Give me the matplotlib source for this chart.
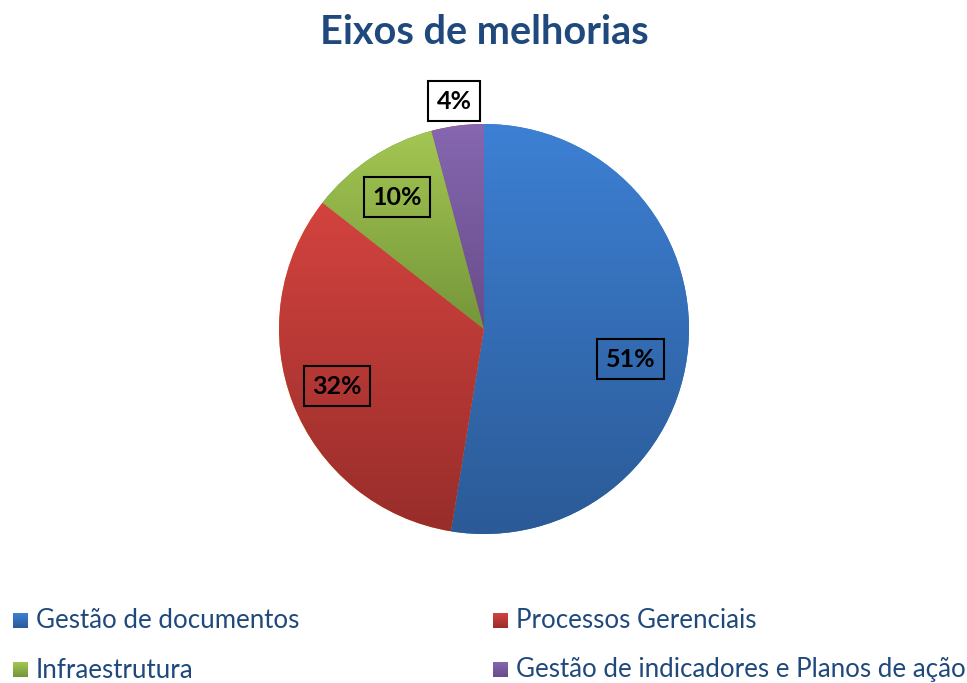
import matplotlib

matplotlib.use("Agg")
import matplotlib.pyplot as plt  # noqa: E402
import numpy as np  # noqa: E402
from matplotlib.colors import LinearSegmentedColormap  # noqa: E402

plt.rcParams["font.family"] = ["Lato", "DejaVu Sans"]

# data (labels show raw values, pie normalises them)
categories = ["Gestão de documentos", "Processos Gerenciais",
              "Infraestrutura", "Gestão de indicadores e Planos de ação"]
values = [51, 32, 10, 4]
pct_labels = ["51%", "32%", "10%", "4%"]

# gradient colours (top, bottom) per slice, Excel style
_GRAD = [("#3d80d4", "#2b5a96"),
         ("#d3433f", "#982d2a"),
         ("#a3c653", "#759639"),
         ("#8667b0", "#674c8a")]
_TEXT_BLUE = "#1f497d"

# label placement: radial distance and angular nudge (deg) per slice
_LBL_R = [0.73, 0.77, 0.77, 1.12]
_LBL_DA = [-7, 0, 0, 0]

W, H = 967, 683
fig = plt.figure(figsize=(W / 100, H / 100), dpi=100)

cx, cy, rad = 484, 329, 205
ax = fig.add_axes([(cx - rad) / W, (H - cy - rad) / H, 2 * rad / W, 2 * rad / H])
wedges, _ = ax.pie(values, startangle=90, counterclock=False, radius=1,
                   wedgeprops=dict(linewidth=0))

grad = np.linspace(0, 1, 256).reshape(-1, 1)


def _fill_gradient(axis, patch, top, bottom):
    bb = patch.get_path().get_extents()
    cmap = LinearSegmentedColormap.from_list("g", [top, bottom])
    im = axis.imshow(grad, extent=[bb.x0, bb.x1, bb.y0, bb.y1], origin="upper",
                     cmap=cmap, aspect="auto", interpolation="bilinear", zorder=1)
    im.set_clip_path(patch)
    return im


for w, (top, bottom) in zip(wedges, _GRAD):
    _fill_gradient(ax, w, top, bottom)

for i, w in enumerate(wedges):
    th = np.deg2rad((w.theta1 + w.theta2) / 2 + _LBL_DA[i])
    x, y = _LBL_R[i] * np.cos(th), _LBL_R[i] * np.sin(th)
    outside = _LBL_R[i] > 1
    ax.text(x, y, pct_labels[i], ha="center", va="center", fontsize=18,
            fontweight="bold", color="black", zorder=5,
            bbox=dict(boxstyle="square,pad=0.34",
                      fc="white" if outside else "none", ec="black", lw=1.5))

ax.set_xlim(-1, 1)
ax.set_ylim(-1, 1)
ax.axis("off")

fig.text(cx / W, 1 - 33 / H, "Eixos de melhorias", ha="center", va="center",
         fontsize=28.5, fontweight="bold", color=_TEXT_BLUE)

# legend drawn on a full-figure overlay in pixel units
lax = fig.add_axes([0, 0, 1, 1], zorder=-1)
col_x = [13, 493]
row_y = [621, 670]
sq = 15
for i, name in enumerate(categories):
    x0 = col_x[i % 2]
    yc = row_y[i // 2]
    top, bottom = _GRAD[i]
    cmap = LinearSegmentedColormap.from_list("g", [top, bottom])
    lax.imshow(grad, extent=[x0, x0 + sq, yc + sq / 2, yc - sq / 2], origin="upper",
               cmap=cmap, aspect="auto", interpolation="bilinear")
    lax.text(x0 + 23, yc, name, ha="left", va="center", fontsize=18.6,
             color=_TEXT_BLUE)
lax.set_xlim(0, W)
lax.set_ylim(H, 0)
lax.axis("off")

fig.savefig("out.png", dpi=100)
